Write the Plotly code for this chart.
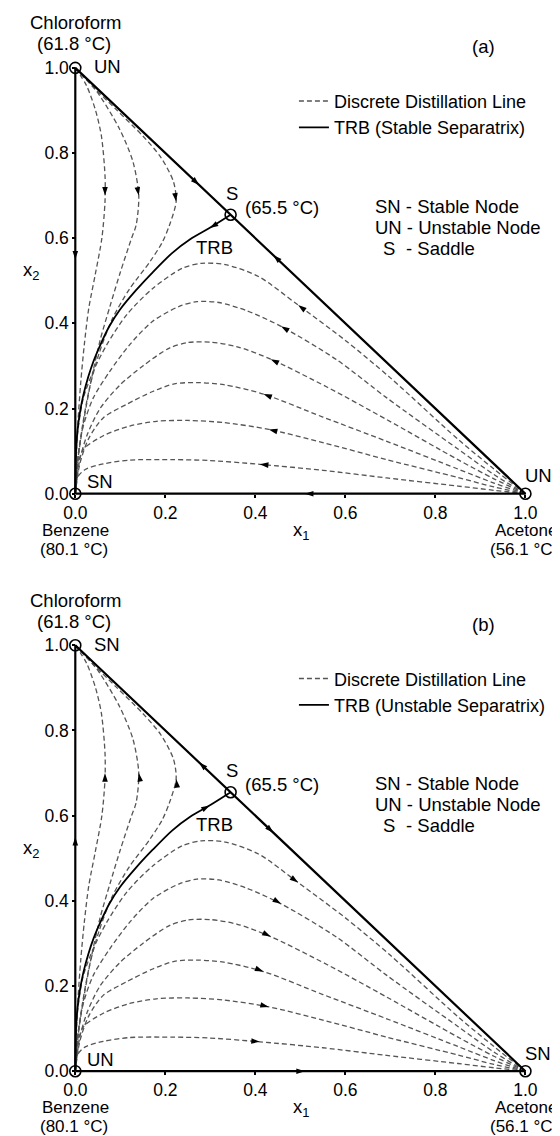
import numpy as np
import plotly.graph_objects as go

# ------------------------------------------------------------------ data
# composition coordinates: x1 (acetone), x2 (chloroform); benzene at origin
vertex_x = [0.0, 0.0, 1.0, 0.345]          # chloroform, benzene, acetone, saddle
vertex_y = [1.0, 0.0, 0.0, 0.655]

# triangle edges
edge_x = [0.0, 1.0, 0.0, 0.0]
edge_y = [0.0, 0.0, 1.0, 0.0]

# distillation lines starting at chloroform (ordered chloroform -> benzene)
u1_x = [0, 0.025, 0.045, 0.058, 0.066, 0.066, 0.059, 0.044, 0.030, 0.020, 0.012, 0.006, 0.002, 0]
u1_y = [1, 0.958, 0.90, 0.84, 0.747, 0.686, 0.60, 0.513, 0.436, 0.35, 0.26, 0.17, 0.08, 0]
u2_x = [0, 0.048, 0.098, 0.128, 0.141, 0.135, 0.125, 0.100, 0.077, 0.055, 0.036, 0.020, 0.007, 0]
u2_y = [1, 0.944, 0.857, 0.78, 0.70, 0.63, 0.60, 0.52, 0.44, 0.36, 0.27, 0.18, 0.09, 0]
u3_x = [0, 0.04, 0.09, 0.15, 0.19, 0.218, 0.224, 0.209, 0.193, 0.166, 0.12, 0.082, 0.053, 0.032, 0.016, 0.006, 0]
u3_y = [1, 0.955, 0.903, 0.84, 0.79, 0.733, 0.686, 0.63, 0.59, 0.545, 0.48, 0.41, 0.33, 0.25, 0.16, 0.08, 0]

# distillation lines starting at acetone (ordered acetone -> benzene)
l1_x = [1.0, 0.93, 0.85, 0.692, 0.55, 0.41, 0.297, 0.215, 0.121, 0.062, 0.022, 0.004, 0]
l1_y = [0, 0.008, 0.018, 0.037, 0.055, 0.069, 0.078, 0.080, 0.079, 0.070, 0.057, 0.037, 0]
l2_x = [1.0, 0.93, 0.85, 0.692, 0.55, 0.43, 0.33, 0.25, 0.18, 0.121, 0.062, 0.018, 0.004, 0]
l2_y = [0, 0.016, 0.038, 0.080, 0.12, 0.151, 0.167, 0.172, 0.170, 0.159, 0.136, 0.104, 0.060, 0]
l3_x = [1.0, 0.93, 0.85, 0.692, 0.55, 0.418, 0.33, 0.27, 0.22, 0.172, 0.114, 0.062, 0.030, 0.010, 0]
l3_y = [0, 0.025, 0.058, 0.123, 0.18, 0.234, 0.256, 0.261, 0.258, 0.24, 0.21, 0.178, 0.13, 0.07, 0]
l4_x = [1.0, 0.93, 0.85, 0.692, 0.56, 0.434, 0.36, 0.30, 0.25, 0.209, 0.15, 0.099, 0.055, 0.027, 0.010, 0]
l4_y = [0, 0.035, 0.08, 0.174, 0.25, 0.316, 0.345, 0.356, 0.355, 0.342, 0.30, 0.255, 0.20, 0.14, 0.08, 0]
l5_x = [1.0, 0.93, 0.85, 0.692, 0.58, 0.457, 0.38, 0.319, 0.27, 0.231, 0.172, 0.121, 0.077, 0.040, 0.018, 0.006, 0]
l5_y = [0, 0.045, 0.105, 0.225, 0.315, 0.393, 0.43, 0.449, 0.451, 0.44, 0.405, 0.35, 0.288, 0.225, 0.16, 0.09, 0]
l6_x = [1.0, 0.93, 0.85, 0.70, 0.60, 0.495, 0.407, 0.333, 0.28, 0.237, 0.172, 0.114, 0.070, 0.040, 0.018, 0.006, 0.001, 0]
l6_y = [0, 0.058, 0.128, 0.272, 0.36, 0.443, 0.51, 0.538, 0.541, 0.529, 0.482, 0.42, 0.35, 0.288, 0.225, 0.15, 0.07, 0]

# TRB separatrix (ordered saddle -> benzene)
trb_x = [0.345, 0.30, 0.256, 0.215, 0.172, 0.135, 0.099, 0.075, 0.055, 0.040, 0.029, 0.018, 0.011, 0.005, 0.0015, 0]
trb_y = [0.655, 0.625, 0.598, 0.565, 0.52, 0.478, 0.432, 0.392, 0.348, 0.310, 0.275, 0.232, 0.195, 0.15, 0.10, 0]

# arrow locations (flow direction of panel a; reversed in panel b)
arrow_curve = ["l1", "l2", "l3", "l4", "l5", "l6", "u1", "u2", "u3", "trb",
               "hyp_up", "hyp_low", "left", "bottom"]
arrow_x = [0.41, 0.43, 0.418, 0.434, 0.457, 0.495, 0.066, 0.141, 0.224, 0.297, 0.275, 0.44, 0.0, 0.51]
arrow_y = [0.069, 0.151, 0.234, 0.316, 0.393, 0.443, 0.70, 0.70, 0.686, 0.627, 0.725, 0.56, 0.55, 0.0]

# ------------------------------------------------------------------ geometry
W, H = 560, 1136
X0, XS, YS = 65, 455, 427           # pixel of x=0, pixels per unit
Y0 = {"a": 486, "b": 1065}          # pixel row of y=0 in each panel
PAD = 0.02
FONT = "Liberation Sans, Arial, Helvetica, sans-serif"
FS = 18.5


def px(x):
    return x / W


def py(y):
    return 1 - y / H


curves = {
    "u1": (u1_x, u1_y), "u2": (u2_x, u2_y), "u3": (u3_x, u3_y),
    "l1": (l1_x, l1_y), "l2": (l2_x, l2_y), "l3": (l3_x, l3_y),
    "l4": (l4_x, l4_y), "l5": (l5_x, l5_y), "l6": (l6_x, l6_y),
    "trb": (trb_x, trb_y),
    "hyp_up": ([vertex_x[0], vertex_x[3]], [vertex_y[0], vertex_y[3]]),
    "hyp_low": ([vertex_x[2], vertex_x[3]], [vertex_y[2], vertex_y[3]]),
    "left": ([vertex_x[0], vertex_x[1]], [vertex_y[0], vertex_y[1]]),
    "bottom": ([vertex_x[2], vertex_x[1]], [vertex_y[2], vertex_y[1]]),
}


def project(xs, ys, qx, qy):
    P = np.array([qx * XS, qy * YS])
    best = None
    for i in range(len(xs) - 1):
        A = np.array([xs[i] * XS, ys[i] * YS])
        B = np.array([xs[i + 1] * XS, ys[i + 1] * YS])
        AB = B - A
        L2 = AB @ AB
        if L2 == 0:
            continue
        t = np.clip((P - A) @ AB / L2, 0, 1)
        Q = A + t * AB
        d = np.hypot(*(P - Q))
        if best is None or d < best[0]:
            best = (d, Q, AB)
    _, Q, AB = best
    ang = float(np.degrees(np.arctan2(AB[0], AB[1])))
    return Q[0] / XS, Q[1] / YS, ang


arrows = [project(*curves[c], x, y) for c, x, y in zip(arrow_curve, arrow_x, arrow_y)]

dash_keys = ["u1", "u2", "u3", "l1", "l2", "l3", "l4", "l5", "l6"]
dash_x, dash_y = [], []
for k in dash_keys:
    dash_x += list(curves[k][0]) + [None]
    dash_y += list(curves[k][1]) + [None]

fig = go.Figure()

panels = [
    ("a", "x", "y", "legend", "TRB (Stable Separatrix)", 0),
    ("b", "x2", "y2", "legend2", "TRB (Unstable Separatrix)", 180),
]

for tag, xa, ya, lg, trbname, flip in panels:
    fig.add_trace(go.Scatter(
        x=dash_x, y=dash_y, mode="lines", xaxis=xa, yaxis=ya,
        line=dict(color="#555555", width=1.3, dash="5px,3px", shape="spline", smoothing=0.8),
        name="Discrete Distillation Line", legend=lg, showlegend=True,
        connectgaps=False, hoverinfo="skip"))
    fig.add_trace(go.Scatter(
        x=trb_x, y=trb_y, mode="lines", xaxis=xa, yaxis=ya,
        line=dict(color="black", width=1.8, shape="spline", smoothing=0.8),
        name=trbname, legend=lg, showlegend=True, hoverinfo="skip"))
    fig.add_trace(go.Scatter(
        x=edge_x, y=edge_y, mode="lines", xaxis=xa, yaxis=ya,
        line=dict(color="black", width=2.2), showlegend=False, hoverinfo="skip"))
    fig.add_trace(go.Scatter(
        x=vertex_x, y=vertex_y, mode="markers", xaxis=xa, yaxis=ya,
        marker=dict(symbol="circle-open", size=11, color="black", line=dict(width=1.6)),
        showlegend=False, cliponaxis=False, hoverinfo="skip"))
    fig.add_trace(go.Scatter(
        x=[a[0] for a in arrows], y=[a[1] for a in arrows], mode="markers",
        xaxis=xa, yaxis=ya,
        marker=dict(symbol="arrow", size=9, color="black",
                    angle=[(a[2] + flip) % 360 for a in arrows],
                    line=dict(width=0)),
        showlegend=False, cliponaxis=False, hoverinfo="skip"))

tickvals = [0, 0.2, 0.4, 0.6, 0.8, 1.0]
ticktext = ["0.0", "0.2", "0.4", "0.6", "0.8", "1.0"]
xdom = [px(X0 - PAD * XS), px(X0 + (1 + PAD) * XS)]
axis_common = dict(range=[-PAD, 1 + PAD], tickvals=tickvals, ticktext=ticktext,
                   ticks="outside", ticklen=3, tickwidth=1.5, tickcolor="black",
                   showgrid=False, zeroline=False, showline=False,
                   tickfont=dict(size=17.5, family=FONT, color="black"), fixedrange=True)


def ydom(tag):
    return [py(Y0[tag] + PAD * YS), py(Y0[tag] - (1 + PAD) * YS)]


fig.update_layout(
    xaxis=dict(domain=xdom, anchor="free", position=py(Y0["a"]), **axis_common),
    yaxis=dict(domain=ydom("a"), anchor="free", position=px(X0), **axis_common),
    xaxis2=dict(domain=xdom, anchor="free", position=py(Y0["b"]), **axis_common),
    yaxis2=dict(domain=ydom("b"), anchor="free", position=px(X0), **axis_common),
)

legend_common = dict(xanchor="left", yanchor="top", bgcolor="rgba(0,0,0,0)",
                     font=dict(size=18, family=FONT, color="black"),
                     tracegroupgap=0, itemwidth=30, traceorder="normal")
fig.update_layout(
    legend=dict(x=px(286), y=py(74), **legend_common),
    legend2=dict(x=px(286), y=py(74 + Y0["b"] - Y0["a"]), **legend_common),
)

# ------------------------------------------------------------------ texts
labels = {
    "a": dict(top="UN", origin="SN", right="UN", tag="(a)"),
    "b": dict(top="SN", origin="UN", right="SN", tag="(b)"),
}
ann = []


def text(x, y, s, xanchor="center", size=FS):
    ann.append(dict(x=px(x), y=py(y), xref="paper", yref="paper", text=s,
                    showarrow=False, xanchor=xanchor, yanchor="middle",
                    font=dict(size=size, family=FONT, color="black")))


for tag in ("a", "b"):
    o = Y0[tag] - 486
    L = labels[tag]
    text(66, 14 + o, "Chloroform")
    text(64, 35 + o, "(61.8 °C)")
    text(82, 58 + o, L["top"], "left")
    text(478, 38 + o, L["tag"])
    text(20, 263 + o, "x<sub>2</sub>")
    text(223, 185 + o, "S")
    text(235, 199 + o, "(65.5 °C)", "left")
    text(206, 239 + o, "TRB")
    text(366, 198 + o, "SN - Stable Node", "left")
    text(366, 219 + o, "UN - Unstable Node", "left")
    text(382, 240 + o, "S")
    text(397, 240 + o, "- Saddle", "left")
    text(75, 474 + o, L["origin"], "left")
    text(533, 468 + o, L["right"])
    text(65, 522.5 + o, "Benzene", size=17)
    text(64, 541.5 + o, "(80.1 °C)", size=17)
    text(293, 523 + o, "x<sub>1</sub>")
    text(521, 522.5 + o, "Acetone", size=17)
    text(519, 541.5 + o, "(56.1 °C)", size=17)

fig.update_layout(
    annotations=ann,
    width=W, height=H,
    margin=dict(l=0, r=0, t=0, b=0),
    paper_bgcolor="white", plot_bgcolor="white",
    font=dict(family=FONT, color="black"),
)

fig.write_html("out.html")
